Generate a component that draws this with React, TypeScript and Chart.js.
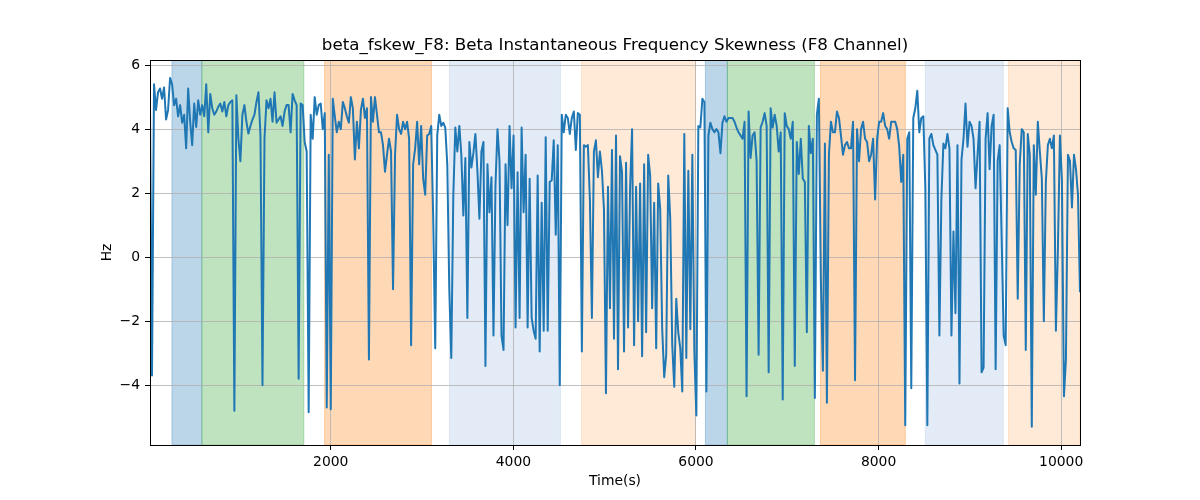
import React, { useEffect, useRef } from "react";
import { Chart, registerables } from "chart.js";

Chart.register(...registerables);

const TITLE = "beta_fskew_F8: Beta Instantaneous Frequency Skewness (F8 Channel)";
const X_LABEL = "Time(s)";
const Y_LABEL = "Hz";

const startTime = 20;
const sampleStep = 22;

const skewValues = [
  4.65, -3.7, 5.4, 4.6, 5.15, 5.27, 4.95, 5.3, 4.3, 4.6,
  5.6, 5.4, 4.75, 4.95, 4.4, 4.75, 4.2, 4.45, 3.4, 5.27,
  4.23, 3.5, 4.8, 4.07, 4.9, 4.45, 4.75, 4.4, 5.4, 3.9,
  5.1, 4.65, 4.45, 4.55, 4.7, 4.8, 4.55, 4.85, 4.4, 4.75,
  4.85, 4.9, -4.8, 5.06, 3.7, 3.0, 4.45, 4.75, 4.23, 3.86,
  4.1, 4.3, 4.45, 4.85, 5.15, 3.8, -4.0, 3.7, 4.9,

  4.65, 4.95, 4.23, 5.15, 4.2, 4.3, 4.4, 4.1, 4.55, 4.75,
  4.75, 3.9, 5.1, 4.9, 4.75, -3.8, 4.8, 4.75, 3.6, 3.3,
  -4.85, 4.45, 3.7, 5.0, 4.45, 4.75, 4.8, 4.0, 4.5, -4.7,
  3.2, -4.75, 4.95, 4.4, 3.9, 4.23, 4.0, 4.85, 4.65, 4.4,
  4.2, 5.0, 4.65, 3.05, 4.23, 3.4, 4.6, 4.95, 4.35, 4.65,

  -3.2, 5.0, 4.23, 5.0, 4.45, 3.9, 3.9, 3.5, 2.67, 3.2,
  3.7, 3.3, -1.0, 3.2, 4.45, 4.0, 3.85, 4.23, 4.0, 4.23,
  3.7, -2.75, 2.9, 3.4, 4.23, 2.9, 4.1, 2.45, 1.95, 3.8,
  3.85, 4.1, 1.2, -2.85, 3.8, 4.45, 4.1, 4.2, 4.05, 2.9,
  -1.0, -3.15, 1.9, 4.05, 3.3, 4.1, 3.2, 1.3, 3.1, -1.9,

  3.6, 2.8, 3.25, 3.85, 2.7, 1.2, 3.3, 3.6, -3.4, 2.9,
  1.4, 2.5, -2.45, 2.25, 4.0, 3.0, -2.45, -2.9, 2.9, 1.0,
  4.1, 2.15, 3.8, -2.2, 2.65, -1.9, 4.05, 1.4, 3.2, -2.2,
  2.45, -1.9, -2.3, -2.55, 2.55, -2.95, 1.7, -2.3, 3.75, -2.3,
  2.35, 2.4, 3.65, 0.7, 3.5, -4.0, 4.45, 3.9, 4.45, 4.35,

  3.85, 4.35, 4.55, 3.35, 4.5, 4.45, -2.95, 3.5, 3.45, 3.5,
  1.8, -1.9, 3.3, 3.65, 2.5, 3.3, 2.7, 1.5, -4.25, 2.2,
  -1.6, 3.35, -2.55, 3.8, -3.5, 3.15, 2.65, -2.95, 2.95, -2.2,
  2.15, 4.0, -2.75, 2.2, -2.0, 2.3, -3.1, 2.9, -2.35, 3.2,
  2.55, -1.6, 1.7, -2.85, 2.3, 1.5, -2.25, -3.75, -3.05, 2.55,

  1.2, -2.75, -4.05, -1.3, -2.35, -2.85, -4.2, 3.85, -3.15, 2.7,
  -2.25, 3.2, -2.95, -4.95, 4.1, 4.05, 4.95, 4.85, -4.2, 3.8,
  4.2, 4.0, 3.9, 4.0, 3.9, 3.25, 4.2, 4.4, 4.23, 4.35,
  4.35, 4.35, 4.23, 4.05, 3.9, 3.8, 3.7, 4.23, -4.35, 4.55,
  3.1, 3.8, 3.9, 3.0, -3.05, 4.05, 4.23, 4.5, 4.1, -3.6,

  4.65, 4.05, 4.45, 4.1, 3.3, 3.9, -4.45, 4.5, 4.1, 4.0,
  3.7, 4.23, -3.4, 3.6, 2.6, 3.7, 2.45, 2.35, -2.35, 4.1,
  3.25, 3.7, -4.4, 4.45, 4.95, -0.75, -3.55, 3.55, -4.55, 3.2,
  4.23, 3.9, 3.9, 4.55, 4.35, 3.8, 3.2, 3.5, 3.6, 3.4,
  3.4, 4.23, -3.85, 4.0, 3.0, 4.0, 4.23, 3.7, 3.6, 3.0,

  3.2, 3.7, 1.8, 3.7, 4.23, 4.23, 4.5, 4.1, 4.0, 3.7,
  4.23, 4.23, 4.23, 4.0, 3.45, 2.35, 3.2, -5.25, 3.7, 3.9,
  -4.1, 4.35, 4.65, 5.2, 3.9, 4.35, 4.4, 2.15, -5.25, 3.7,
  3.85, 3.5, 3.35, 3.2, -2.45, 1.85, 3.55, 3.4, 3.85, 3.4,
  -2.45, 0.8, -1.75, 3.5, -3.95, 3.05, 3.7, 4.8, 3.45, 4.23,

  4.1, 3.7, 2.15, 3.2, 4.23, -3.6, -3.45, 3.7, 4.5, 2.75,
  4.1, 4.45, -3.5, 3.0, 3.5, 0.6, -2.45, -2.75, 4.65, 3.9,
  3.6, 3.4, 3.35, -1.3, 2.9, 4.0, 3.9, -2.9, 3.85, 3.2,
  -5.3, 3.5, 1.95, 4.23, 3.3, 2.45, -2.0, 2.35, 3.5, 3.7,
  3.4, 3.8, -2.3, 0.25, 3.8, 2.4, -4.35, -3.2, 3.2, 3.0,
  1.55, 3.2, 2.75, 1.95, -1.1,
];

const xTickValues = [2000, 4000, 6000, 8000, 10000];
const yTickValues = [-4, -2, 0, 2, 4, 6];

const spanStarts = [260, 588, 1932, 3300, 4747, 6103, 6344, 7363, 8512, 9421];
const spanEnds = [588, 1705, 3103, 4515, 5995, 6344, 7297, 8293, 9366, 10206];
const spanKinds = ["blue", "green", "orange", "paleBlue", "paleOrange", "blue", "green", "orange", "paleBlue", "paleOrange"];

const yMin = -5.87;
const yMax = 6.16;

const SPAN_COLORS: Record<string, string> = {
  blue: "rgba(31,119,180,0.3)",
  green: "rgba(44,160,44,0.3)",
  orange: "rgba(255,127,14,0.3)",
  paleBlue: "rgba(174,199,232,0.35)",
  paleOrange: "rgba(255,127,14,0.16)",
};

const FONT = "DejaVu Sans";

const spansPlugin = {
  id: "spans",
  beforeDraw(chart: any) {
    const { ctx, chartArea, scales } = chart;
    const xs = scales.x;
    ctx.save();
    ctx.beginPath();
    ctx.rect(chartArea.left, chartArea.top, chartArea.right - chartArea.left, chartArea.bottom - chartArea.top);
    ctx.clip();
    for (let i = 0; i < spanStarts.length; i++) {
      const x0 = xs.getPixelForValue(spanStarts[i]);
      const x1 = xs.getPixelForValue(spanEnds[i]);
      const c = SPAN_COLORS[spanKinds[i]];
      ctx.fillStyle = c;
      ctx.fillRect(x0, chartArea.top, x1 - x0, chartArea.bottom - chartArea.top);
      ctx.strokeStyle = c;
      ctx.lineWidth = 1;
      ctx.strokeRect(x0, chartArea.top, x1 - x0, chartArea.bottom - chartArea.top);
    }
    ctx.restore();
  },
  afterDraw(chart: any) {
    const { ctx, chartArea } = chart;
    ctx.save();
    ctx.strokeStyle = "#000";
    ctx.lineWidth = 1;
    ctx.strokeRect(
      Math.round(chartArea.left) + 0.5,
      Math.round(chartArea.top) + 0.5,
      Math.round(chartArea.right - chartArea.left),
      Math.round(chartArea.bottom - chartArea.top)
    );
    ctx.fillStyle = "#000";
    ctx.font = `16.7px "${FONT}"`;
    ctx.textAlign = "center";
    ctx.textBaseline = "middle";
    ctx.fillText(TITLE, (chartArea.left + chartArea.right) / 2, 46);
    ctx.restore();
  },
};

export default function App() {
  const canvasRef = useRef<HTMLCanvasElement | null>(null);

  useEffect(() => {
    const canvas = canvasRef.current;
    if (!canvas) return;
    const points = skewValues.map((v, i) => ({ x: startTime + i * sampleStep, y: v }));
    const lastTime = startTime + (skewValues.length - 1) * sampleStep;

    const chart = new Chart(canvas, {
      type: "line",
      data: {
        datasets: [
          {
            data: points,
            borderColor: "#1f77b4",
            backgroundColor: "#1f77b4",
            borderWidth: 2,
            pointRadius: 0,
            tension: 0,
            fill: false,
            borderJoinStyle: "round",
          },
        ],
      },
      options: {
        animation: false,
        responsive: false,
        devicePixelRatio: 1,
        layout: { padding: { left: 0, top: 60, right: 120, bottom: 0 } },
        plugins: {
          legend: { display: false },
          tooltip: { enabled: false },
          title: { display: false },
        },
        scales: {
          x: {
            type: "linear",
            min: startTime,
            max: lastTime,
            afterBuildTicks: (scale: any) => {
              scale.ticks = xTickValues.map((v) => ({ value: v }));
            },
            afterFit: (scale: any) => {
              scale.height = 55;
            },
            grid: {
              color: "#b0b0b0",
              lineWidth: 0.8,
              tickColor: "#000",
              tickLength: 5,
              tickWidth: 1,
            },
            border: { display: false },
            ticks: {
              color: "#000",
              padding: 4,
              maxRotation: 0,
              autoSkip: false,
              font: { family: FONT, size: 13.9 },
              callback: (v: any) => String(v),
            },
            title: {
              display: true,
              text: X_LABEL,
              color: "#000",
              font: { family: FONT, size: 13.9 },
              padding: { top: 0, bottom: 10.6 },
            },
          },
          y: {
            type: "linear",
            min: yMin,
            max: yMax,
            afterBuildTicks: (scale: any) => {
              scale.ticks = yTickValues.map((v) => ({ value: v }));
            },
            afterFit: (scale: any) => {
              scale.width = 150;
            },
            grid: {
              color: "#b0b0b0",
              lineWidth: 0.8,
              tickColor: "#000",
              tickLength: 5,
              tickWidth: 1,
            },
            border: { display: false },
            ticks: {
              color: "#000",
              padding: 5,
              autoSkip: false,
              font: { family: FONT, size: 13.9 },
              callback: (v: any) => (v < 0 ? "\u2212" + Math.abs(v) : String(v)),
            },
            title: {
              display: true,
              text: Y_LABEL,
              color: "#000",
              font: { family: FONT, size: 13.9 },
              padding: { top: 98.6, bottom: 0 },
            },
          },
        },
      } as any,
      plugins: [spansPlugin],
    });

    return () => {
      chart.destroy();
    };
  }, []);

  return (
    <div style={{ position: "absolute", left: 0, top: 0, width: 1200, height: 500, background: "#fff" }}>
      <canvas ref={canvasRef} width={1200} height={500} style={{ width: 1200, height: 500, display: "block" }} />
    </div>
  );
}
